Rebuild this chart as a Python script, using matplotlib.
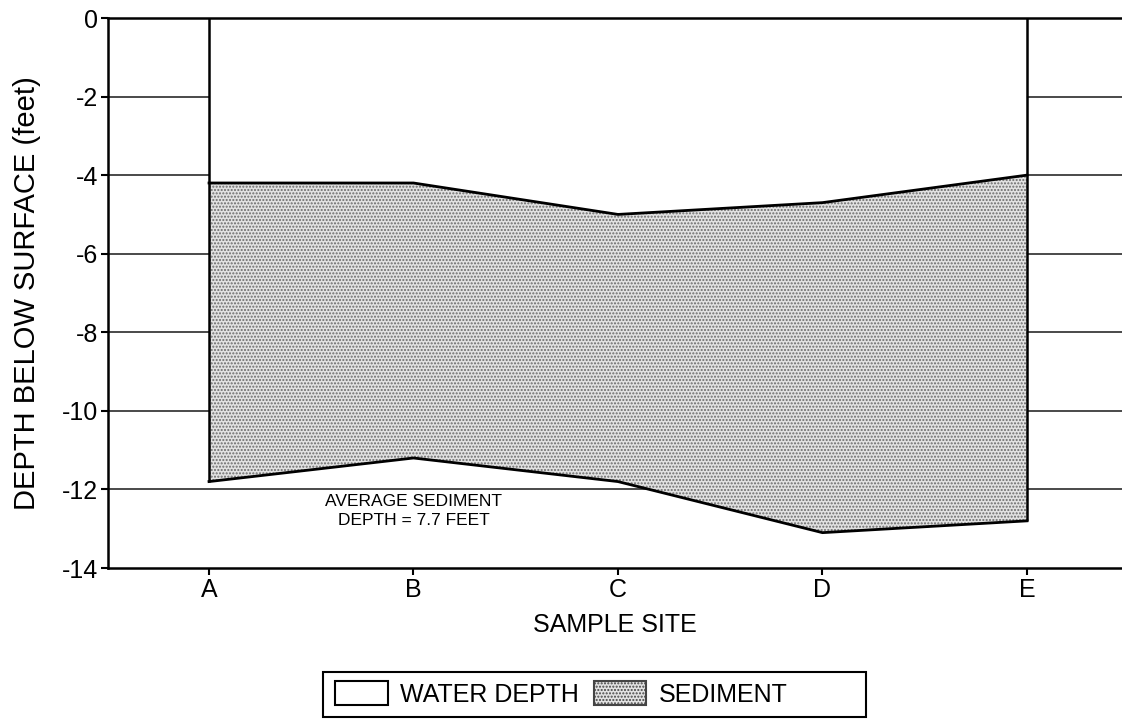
import matplotlib
matplotlib.use("Agg")
import matplotlib.pyplot as plt
from matplotlib.patches import Patch, Rectangle
import numpy as np

plt.rcParams["font.family"] = ["Liberation Sans", "DejaVu Sans"]

# sample sites and measured depths (feet below surface)
sites = ["A", "B", "C", "D", "E"]
sediment_top = [-4.2, -4.2, -5.0, -4.7, -4.0]
sediment_bottom = [-11.8, -11.2, -11.8, -13.1, -12.8]
avg_thickness = 7.7

y_ticks = [0, -2, -4, -6, -8, -10, -12, -14]

x = np.arange(len(sites))
W, H = 1122, 723

fig = plt.figure(figsize=(W / 100, H / 100), dpi=100)
ax = fig.add_axes([108 / W, 1 - 568 / H, (W - 108) / W, 550 / H])

# horizontal reference lines, hidden behind the profile
for yv in y_ticks[1:-1]:
    ax.axhline(yv, color="#2a2a2a", lw=1.2, zorder=1)

# water column and sediment layer
ax.fill_between(x, 0, sediment_top, facecolor="white", edgecolor="none", zorder=2)
ax.fill_between(x, sediment_bottom, sediment_top, facecolor="#e2e2e2",
                edgecolor="#6a6a6a", linewidth=0, hatch=".....", zorder=2)

ax.plot(x, sediment_top, color="black", lw=2.0, zorder=3)
ax.plot(x, sediment_bottom, color="black", lw=2.0, zorder=3)
ax.vlines([x[0], x[-1]], [sediment_bottom[0], sediment_bottom[-1]], 0,
          color="black", lw=1.8, zorder=3)

ax.text(x[1], -12.55, "AVERAGE SEDIMENT\nDEPTH = %.1f FEET" % avg_thickness,
        ha="center", va="center", fontsize=12.5, linespacing=1.4, zorder=4)

ax.set_xlim(-0.494, 4.465)
ax.set_ylim(-14, 0)
ax.set_xticks(x)
ax.set_xticklabels(sites)
ax.set_yticks(y_ticks)
ax.set_yticklabels([str(v) for v in y_ticks])
ax.tick_params(axis="both", labelsize=18, width=1.5, length=5, pad=2)

for side in ["left", "bottom", "top"]:
    ax.spines[side].set_linewidth(1.8)
ax.spines["right"].set_visible(False)

ax.set_xlabel("SAMPLE SITE", fontsize=18, labelpad=8)
ax.set_ylabel("DEPTH BELOW SURFACE (feet)", fontsize=21, labelpad=15)

# legend entries inside a hand-drawn box
handles = [
    Patch(facecolor="white", edgecolor="black", lw=1.5, label="WATER DEPTH"),
    Patch(facecolor="#e2e2e2", edgecolor="#444444", lw=1.5, hatch=".....",
          label="SEDIMENT"),
]
leg = fig.legend(handles=handles, loc="center left",
                 bbox_to_anchor=(335 / W, 1 - 694 / H), ncol=2,
                 fontsize=18, frameon=False,
                 handlelength=2.1, handleheight=1.05, handletextpad=0.5,
                 columnspacing=0.6, borderpad=0, borderaxespad=0)
fig.patches.append(Rectangle((323 / W, 1 - 717 / H), (866 - 323) / W, 45 / H,
                             transform=fig.transFigure, facecolor="none",
                             edgecolor="black", lw=1.5))

fig.savefig("out.png", dpi=100, facecolor="white")
